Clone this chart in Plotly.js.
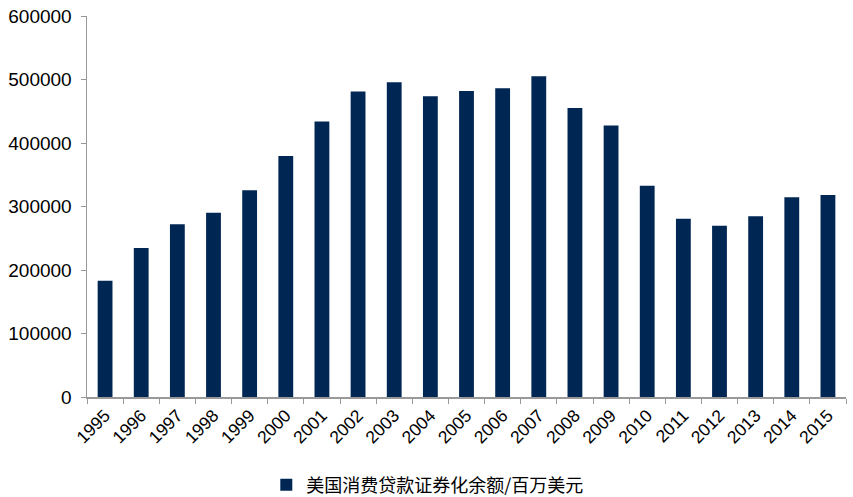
<!DOCTYPE html>
<html>
<head>
<meta charset="utf-8">
<script src="https://cdn.plot.ly/plotly-3.0.1.min.js"></script>
<style>html,body{margin:0;padding:0;background:#fff}#chart{width:853px;height:497px}</style>
</head>
<body>
<div id="chart"></div>
<script>
const years = ["1995","1996","1997","1998","1999","2000","2001","2002","2003","2004","2005","2006","2007","2008","2009","2010","2011","2012","2013","2014","2015"];
const balances = [183000,234500,272200,290000,325700,379700,433700,481000,495700,473600,482000,486200,505100,455200,427400,332500,280600,269500,284800,314700,318300];
const seriesName = "美国消费贷款证券化余额/百万美元";
const yTicks = [0,100000,200000,300000,400000,500000,600000];

Plotly.newPlot("chart", [{
  type: "bar",
  x: years,
  y: balances,
  name: seriesName,
  marker: {color: "#002653", line: {width: 0}},
  showlegend: true
}], {
  width: 853, height: 497,
  margin: {l: 87, r: 7, t: 16, b: 100},
  paper_bgcolor: "#fff", plot_bgcolor: "#fff",
  bargap: 0.59,
  font: {family: "Liberation Sans, Arial, sans-serif", size: 17, color: "#000"},
  xaxis: {
    type: "category",
    tickangle: -45,
    showline: true, linecolor: "#999", linewidth: 1.5,
    ticks: "outside", tickson: "boundaries", ticklen: 5, tickcolor: "#999",
    showgrid: false, zeroline: false,
    tickfont: {size: 17.5}
  },
  yaxis: {
    range: [0, 600000],
    tickvals: yTicks,
    ticktext: yTicks.map(String),
    showline: true, linecolor: "#999", linewidth: 1.5,
    ticks: "outside", ticklen: 5, tickcolor: "#999",
    ticklabelstandoff: 5,
    showgrid: false, zeroline: false,
    tickfont: {size: 19}
  },
  showlegend: true,
  legend: {
    orientation: "h", x: 0.449, xanchor: "center",
    yref: "container", y: 0.024, yanchor: "middle",
    itemwidth: 30,
    font: {family: "Noto Sans CJK SC, sans-serif", size: 18, color: "#000"}
  }
}, {displayModeBar: false, staticPlot: true});
</script>
</body>
</html>
